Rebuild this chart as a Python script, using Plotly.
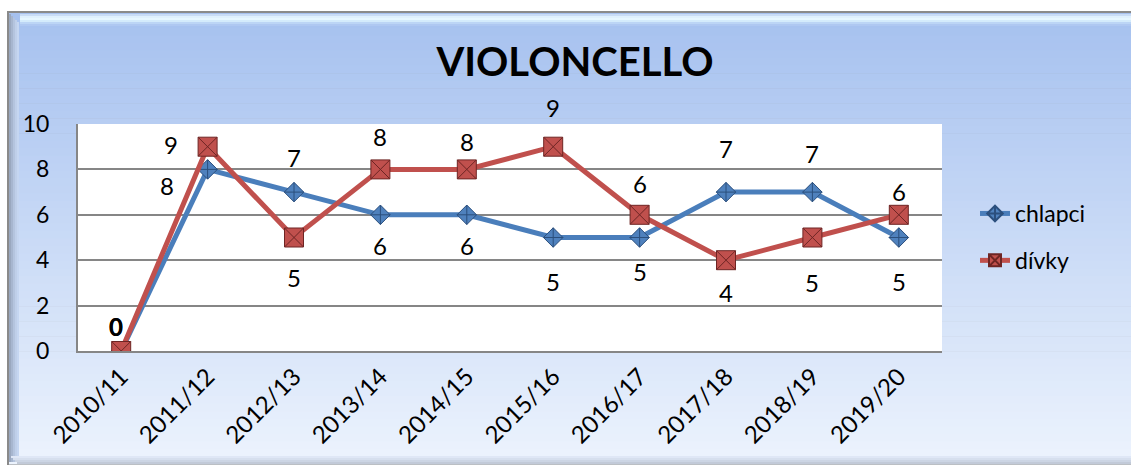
import plotly.graph_objects as go

# --- data ---------------------------------------------------------------
years = ["2010/11", "2011/12", "2012/13", "2013/14", "2014/15",
         "2015/16", "2016/17", "2017/18", "2018/19", "2019/20"]
chlapci = [0, 8, 7, 6, 6, 5, 5, 7, 7, 5]
divky = [0, 9, 5, 8, 8, 9, 6, 4, 5, 6]
y_ticks = [0, 2, 4, 6, 8, 10]

# label offsets in pixels (dx, dy), dy positive = upwards
chlapci_lbl = [(-5, 25), (-41, -16), (0, 35), (0, -31), (0, -31),
               (0, -44), (0, -34), (0, 44), (0, 39), (0, -44)]
divky_lbl = [(-5, 25), (-37, 2), (0, -40), (0, 33), (0, 28),
             (0, 39), (0, 31), (0, -32), (0, -45), (0, 23)]

# --- layout geometry (pixels) --------------------------------------------
W, H = 1131, 466
PL, PR, PT, PB = 78, 942, 124, 351          # plot area
FONT = "Lato, Calibri, Arial, sans-serif"


def px(x):
    return (x - PL) / (PR - PL)


def py(y):
    return (PB - y) / (PB - PT)


def mix(c1, c2, t):
    return "#%02x%02x%02x" % tuple(round(a + (b - a) * t) for a, b in zip(c1, c2))


shapes = []
# outer frame border
shapes.append(dict(type="rect", xref="paper", yref="paper",
                   x0=px(7), x1=px(W + 5), y0=py(465), y1=py(11),
                   fillcolor="#8a8a8a", line=dict(width=0), layer="below"))
# vertical gradient panel
top_c, bot_c = (166, 193, 239), (236, 243, 253)
y_start, y_end = 13, 464
n = 60
step = (y_end - y_start) / n
for i in range(n):
    ya = y_start + i * step
    yb = ya + step + 0.6
    shapes.append(dict(type="rect", xref="paper", yref="paper",
                       x0=px(9), x1=px(W + 5), y0=py(yb), y1=py(ya),
                       fillcolor=mix(top_c, bot_c, i / (n - 1)),
                       line=dict(width=0), layer="below"))
# top bevel highlight
bevel = [(14, "#c9dcf6"), (16, "#dff0fd"), (18, "#e6f6ff"), (20, "#d4ebfb"),
         (22, "#bcd5f5"), (24, "#afc8f1")]
for yy, c in bevel:
    shapes.append(dict(type="rect", xref="paper", yref="paper",
                       x0=px(20), x1=px(W + 5), y0=py(yy + 2), y1=py(yy),
                       fillcolor=c, line=dict(width=0), layer="below"))
# left bevel shadow
for i, c in enumerate(["#9aa8bf", "#a7b6cf", "#b4c4de", "#bfcfe9", "#c5d6f1"]):
    shapes.append(dict(type="rect", xref="paper", yref="paper",
                       x0=px(9 + i * 2), x1=px(11 + i * 2), y0=py(462), y1=py(14 + i * 2),
                       fillcolor=c, line=dict(width=0), layer="below"))
# bottom bevel shadow
for i, c in enumerate(["#c2cad8", "#ccd5e4", "#d6dfee", "#dfe7f6"]):
    shapes.append(dict(type="rect", xref="paper", yref="paper",
                       x0=px(9 + (4 - i) * 2), x1=px(W + 5), y0=py(464 - i * 2), y1=py(462 - i * 2),
                       fillcolor=c, line=dict(width=0), layer="below"))
# white plot area
shapes.append(dict(type="rect", xref="paper", yref="paper",
                   x0=0, x1=1, y0=0, y1=1,
                   fillcolor="white", line=dict(width=0), layer="below"))

fig = go.Figure()

fig.add_trace(go.Scatter(
    x=years, y=chlapci, name="chlapci", mode="lines+markers", legendgroup="a",
    line=dict(color="#4a7ebb", width=5),
    marker=dict(symbol="diamond-cross", size=15, color="#4f81bd",
                line=dict(color="#2b4f7d", width=1)),
))
fig.add_trace(go.Scatter(
    x=years, y=divky, name="dívky", mode="lines+markers", legendgroup="b",
    line=dict(color="#c0504d", width=5),
    marker=dict(symbol="square-x", size=19, color="#c0504d",
                line=dict(color="#6e2524", width=1)),
))

annotations = []
for vals, offs in ((chlapci, chlapci_lbl), (divky, divky_lbl)):
    for yr, v, (dx, dy) in zip(years, vals, offs):
        txt = f"<b>{v}</b>" if v == 0 else str(v)
        annotations.append(dict(x=yr, y=v, xref="x", yref="y", text=txt,
                                showarrow=False, xshift=dx, yshift=dy,
                                font=dict(family=FONT, size=24, color="black")))

fig.update_layout(
    width=W, height=H,
    margin=dict(l=PL, r=W - PR, t=PT, b=H - PB, pad=0),
    paper_bgcolor="white",
    plot_bgcolor="rgba(0,0,0,0)",
    shapes=shapes,
    annotations=annotations,
    title=dict(text="<b>VIOLONCELLO</b>", x=(575) / W, xanchor="center",
               y=1 - 62 / H, yanchor="middle",
               font=dict(family=FONT, size=40, color="black")),
    showlegend=True,
    legend=dict(x=px(975), y=py(192), xanchor="left", yanchor="top",
                bgcolor="rgba(0,0,0,0)", font=dict(family=FONT, size=23, color="black"),
                tracegroupgap=14, itemsizing="constant"),
    xaxis=dict(type="category", categoryorder="array", categoryarray=years,
               range=[-0.5, len(years) - 0.5], tickangle=-45,
               showgrid=False, showline=True, linecolor="#868686", linewidth=2,
               ticks="", tickfont=dict(family=FONT, size=24, color="black"),
               fixedrange=True),
    yaxis=dict(range=[0, 10], tickvals=y_ticks, showgrid=True,
               gridcolor="#868686", gridwidth=1.5, zeroline=False,
               showline=True, linecolor="#868686", linewidth=2,
               ticks="", ticklabelstandoff=22,
               tickfont=dict(family=FONT, size=23, color="black"),
               fixedrange=True),
)

fig.write_html("out.html")
